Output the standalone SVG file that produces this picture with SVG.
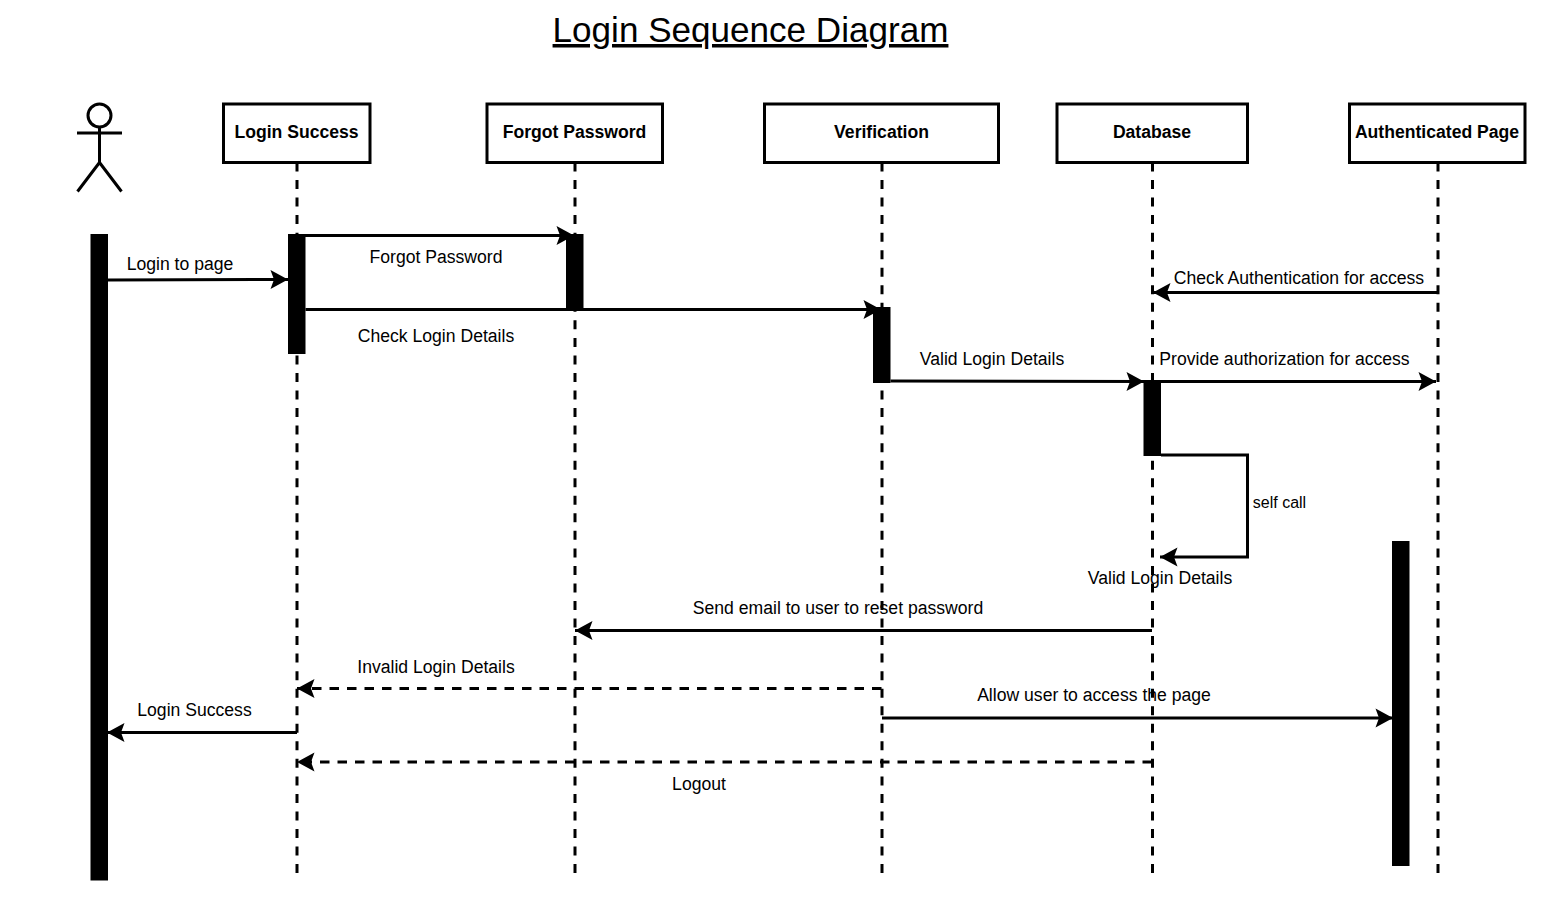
<svg xmlns="http://www.w3.org/2000/svg" width="1552" height="902" viewBox="0 0 1552 902">
<style>
text{font-family:"Liberation Sans",Arial,sans-serif;font-size:17.6px;fill:#000;text-anchor:middle}
.box{fill:#fff;stroke:#000;stroke-width:3}
.name{font-weight:bold}
.life{fill:none;stroke:#000;stroke-width:3;stroke-dasharray:9 8.540}
.bar{fill:#000}
.msg{fill:none;stroke:#000;stroke-width:3;marker-end:url(#arrow)}
.ret{fill:none;stroke:#000;stroke-width:3;stroke-dasharray:9.500 8;marker-end:url(#arrow)}
</style>
<defs>
<marker id="arrow" markerUnits="userSpaceOnUse" viewBox="-19 -11 20 22" refX="0" refY="0" markerWidth="20" markerHeight="22" orient="auto">
<path d="M0,0L-17.500,-9.500L-14,0L-17.500,9.500Z" fill="#000"/>
</marker>
</defs>
<rect width="1552" height="902" fill="#fff"/>
<text id="title" x="750.500" y="42" style="font-size:35.100px;text-decoration:underline">Login Sequence Diagram</text>
<g id="lifelines">
<path class="life" d="M297,162.500V873"/>
<path class="life" d="M575,162.500V873"/>
<path class="life" d="M882,162.500V873"/>
<path class="life" d="M1152.500,162.500V873"/>
<path class="life" d="M1438,162.500V873"/>
</g>
<g id="actor" fill="none" stroke="#000" stroke-width="3">
<circle cx="99.500" cy="115.500" r="11.500"/>
<path d="M99.500,127V162.500M77,133H122M99.500,162.500L77.500,191.500M99.500,162.500L121.500,191.500"/>
</g>
<g id="login-success"><rect class="box" x="223.500" y="104" width="146.500" height="58.500"/><text class="name" x="296.500" y="138">Login Success</text></g>
<g id="forgot-password"><rect class="box" x="487" y="104" width="175.500" height="58.500"/><text class="name" x="574.500" y="138">Forgot Password</text></g>
<g id="verification"><rect class="box" x="764.500" y="104" width="234" height="58.500"/><text class="name" x="881.500" y="138">Verification</text></g>
<g id="database"><rect class="box" x="1057" y="104" width="190.500" height="58.500"/><text class="name" x="1152" y="138">Database</text></g>
<g id="authenticated-page"><rect class="box" x="1349.500" y="104" width="175.500" height="58.500"/><text class="name" x="1437" y="138">Authenticated Page</text></g>
<g id="activations">
<rect class="bar" x="90.500" y="234" width="17.500" height="646.500"/>
<rect class="bar" x="288" y="234" width="17.500" height="120"/>
<rect class="bar" x="566" y="234" width="17.500" height="76"/>
<rect class="bar" x="873" y="307" width="17.500" height="76"/>
<rect class="bar" x="1143.500" y="380" width="17.500" height="76"/>
<rect class="bar" x="1392" y="541" width="17.500" height="325"/>
</g>
<g id="connectors">
<path class="msg" d="M108,280L288,279.500"/>
<path class="msg" d="M296,235.500H574"/>
<path class="msg" d="M305.500,309.500H881"/>
<path class="msg" d="M1438,292.500H1153"/>
<path class="msg" d="M890.500,381L1144,381.500"/>
<path class="msg" d="M1161,381.500H1436"/>
<path class="msg" d="M1161,455H1247.500V557H1160"/>
<path class="msg" d="M1152,630.500H575"/>
<path class="ret" d="M881.500,688.500H297"/>
<path class="msg" d="M882,718H1393"/>
<path class="msg" d="M297,732.500H107"/>
<path class="ret" d="M1152,762H297"/>
</g>
<g id="labels">
<text x="180" y="269.500">Login to page</text>
<text x="436" y="262.500">Forgot Password</text>
<text x="436" y="341.500">Check Login Details</text>
<text x="1299" y="283.500">Check Authentication for access</text>
<text x="992" y="364.500">Valid Login Details</text>
<text x="1284.500" y="364.500">Provide authorization for access</text>
<text x="1279.500" y="508" style="font-size:16px">self call</text>
<text x="1160" y="583.500">Valid Login Details</text>
<text x="838" y="613.500">Send email to user to reset password</text>
<text x="436" y="672.500">Invalid Login Details</text>
<text x="1094" y="700.500">Allow user to access the page</text>
<text x="194.500" y="715.500">Login Success</text>
<text x="699" y="789.500">Logout</text>
</g>
</svg>
